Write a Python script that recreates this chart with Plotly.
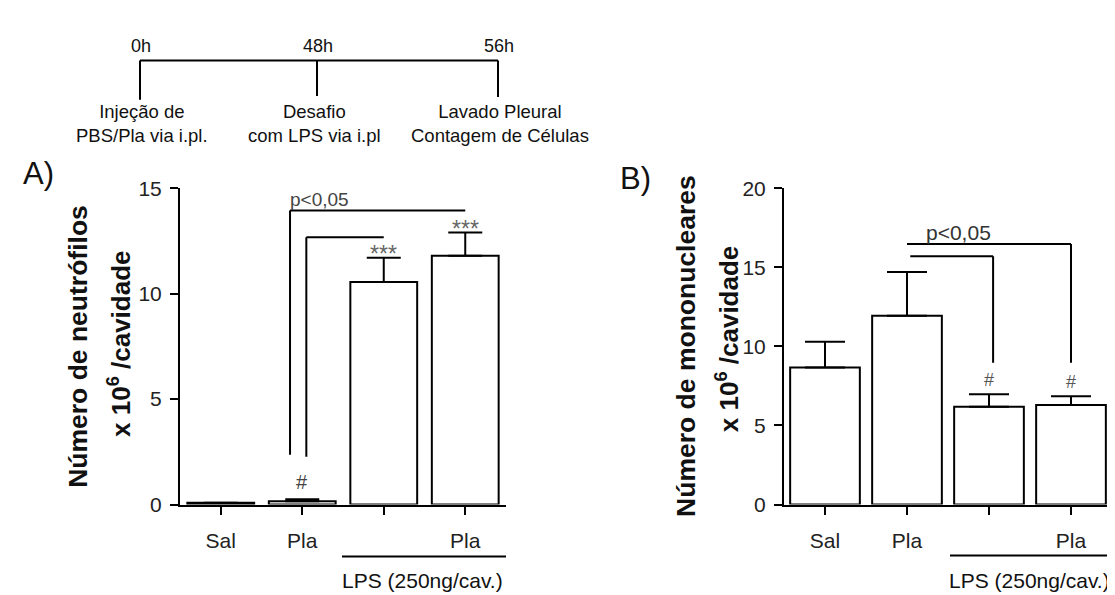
import plotly.graph_objects as go

W, H = 1115, 595

# ---------------- data ----------------
categories = ["Sal", "Pla", "", "Pla"]
neutro_mean = [0.08, 0.15, 10.55, 11.8]
neutro_err = [0.0, 0.10, 1.15, 1.10]
mono_mean = [8.67, 11.94, 6.18, 6.30]
mono_err = [1.63, 2.76, 0.80, 0.55]
yticks_a = [0, 5, 10, 15]
yticks_b = [0, 5, 10, 15, 20]

# significance marks (bar index -> text)
marks_a = {1: "#", 2: "***", 3: "***"}
marks_b = {2: "#", 3: "#"}

# brackets: (x_start, x_end, y_level, y_low)
brackets_a = [(0.85, 3.0, 13.95, 2.36), (1.05, 2.0, 12.68, 2.27)]
brackets_b = [(1.0, 3.0, 16.48, 8.97), (1.04, 2.05, 15.7, 8.97)]

timeline_hours = ["0h", "48h", "56h"]
timeline_l1 = ["Injeção de", "Desafio", "Lavado Pleural"]
timeline_l2 = ["PBS/Pla via i.pl.", "com LPS via i.pl", "Contagem de Células"]

FONT = "Arial, Liberation Sans, sans-serif"
INK = "#111111"


def px(x):
    return x / W


def py(y):
    return 1 - y / H


xs = list(range(len(categories)))
label_pos = [i for i, c in enumerate(categories) if c]
label_txt = [c for c in categories if c]

fig = go.Figure()
fig.add_trace(go.Bar(
    x=xs, y=neutro_mean, width=0.82,
    marker=dict(color="white", line=dict(color="black", width=2)),
    error_y=dict(type="data", array=neutro_err, arrayminus=[0] * 4, symmetric=False,
                 color="black", thickness=2, width=17),
    xaxis="x", yaxis="y", showlegend=False))
fig.add_trace(go.Bar(
    x=xs, y=mono_mean, width=0.85,
    marker=dict(color="white", line=dict(color="black", width=2)),
    error_y=dict(type="data", array=mono_err, arrayminus=[0] * 4, symmetric=False,
                 color="black", thickness=2, width=20),
    xaxis="x2", yaxis="y2", showlegend=False))

axis_common = dict(showline=True, linewidth=2, linecolor="black", ticks="outside",
                   tickwidth=2, ticklen=8, tickcolor="black", showgrid=False,
                   zeroline=False, tickfont=dict(family=FONT, size=21, color="#222"))
minor_x = dict(tickvals=xs, ticks="outside", ticklen=8, tickwidth=2,
               tickcolor="black", showgrid=False)

fig.update_layout(
    width=W, height=H, autosize=False,
    margin=dict(l=0, r=0, t=0, b=0),
    paper_bgcolor="white", plot_bgcolor="white",
    xaxis=dict(domain=[px(172), px(498)], range=[-0.5, 3.5], tickvals=label_pos,
               ticktext=label_txt, minor=minor_x, anchor="y", ticklabelstandoff=8,
               **axis_common),
    yaxis=dict(domain=[py(504), py(175)], range=[0, 15], tickvals=yticks_a,
               anchor="x", ticklabelstandoff=4, **axis_common),
    xaxis2=dict(domain=[px(776), px(1104)], range=[-0.5, 3.5], tickvals=label_pos,
                ticktext=label_txt, minor=minor_x, anchor="y2", ticklabelstandoff=8,
                **axis_common),
    yaxis2=dict(domain=[py(504), py(175)], range=[0, 20], tickvals=yticks_b,
                anchor="x2", ticklabelstandoff=4, **axis_common),
)

shapes = []
annos = []


def line(x0, y0, x1, y1, xref="paper", yref="paper", w=2):
    shapes.append(dict(type="line", x0=x0, y0=y0, x1=x1, y1=y1, xref=xref, yref=yref,
                       line=dict(color="black", width=w)))


def text(x, y, t, size, color=INK, xref="paper", yref="paper", angle=0,
         xanchor="center", yanchor="middle", yshift=0):
    annos.append(dict(x=x, y=y, xref=xref, yref=yref, text=t, showarrow=False,
                      textangle=angle, xanchor=xanchor, yanchor=yanchor, yshift=yshift,
                      font=dict(family=FONT, size=size, color=color)))


# Panel A brackets (left vertical up, then across)
for x0, x1, ylev, ylow in brackets_a:
    line(x0, ylow, x0, ylev, "x", "y")
    line(x0, ylev, x1, ylev, "x", "y")
# Panel B brackets (across, then drop at right end)
for x0, x1, ylev, ylow in brackets_b:
    line(x0, ylev, x1, ylev, "x2", "y2")
    line(x1, ylev, x1, ylow, "x2", "y2")

# significance marks
for i, t in marks_a.items():
    top = neutro_mean[i] + neutro_err[i]
    if t == "#":
        text(i, top, t, 20, "#444", "x", "y", yanchor="bottom", yshift=4)
    else:
        text(i, top, t, 23, "#666", "x", "y", yanchor="middle", yshift=4)
for i, t in marks_b.items():
    top = mono_mean[i] + mono_err[i]
    text(i, top, t, 18, "#555", "x2", "y2", yanchor="bottom", yshift=2)

# p-values
text(px(311), py(187), "p<0,05", 19, "#444")
text(px(950), py(221), "p<0,05", 21, "#333")

# LPS underline and labels
line(px(334), py(558), px(498), py(558))
text(px(414), py(583), "LPS (250ng/cav.)", 21)
line(px(942), py(557), px(1107), py(557))
text(px(1021), py(583), "LPS (250ng/cav.)", 21)

# y-axis titles
text(px(70), py(340), "<b>Número de neutrófilos</b>", 26.5, angle=-90)
text(px(112), py(337), "<b>x 10<sup>6</sup> /cavidade</b>", 26, angle=-90)
text(px(678), py(339), "<b>Número de mononucleares</b>", 26.5, angle=-90)
text(px(719), py(332), "<b>x 10<sup>6</sup> /cavidade</b>", 26, angle=-90)

# panel letters
text(px(30), py(160), "A)", 31)
text(px(627), py(165), "B)", 31)

# timeline
tx = [132, 309, 490]
tbottom = [83, 79, 80]
line(px(tx[0]), py(42), px(tx[-1]), py(42))
for k, (x, yb, h, l1, l2) in enumerate(zip(tx, tbottom, timeline_hours, timeline_l1, timeline_l2)):
    line(px(x), py(42), px(x), py(yb))
    text(px(x + 1), py(27), h, 18)
    text(px(x - 3 if k == 1 else x + 2), py(108), l1 + "<br>" + l2, 18.5)

fig.update_layout(shapes=shapes, annotations=annos)
fig.write_html("out.html")
